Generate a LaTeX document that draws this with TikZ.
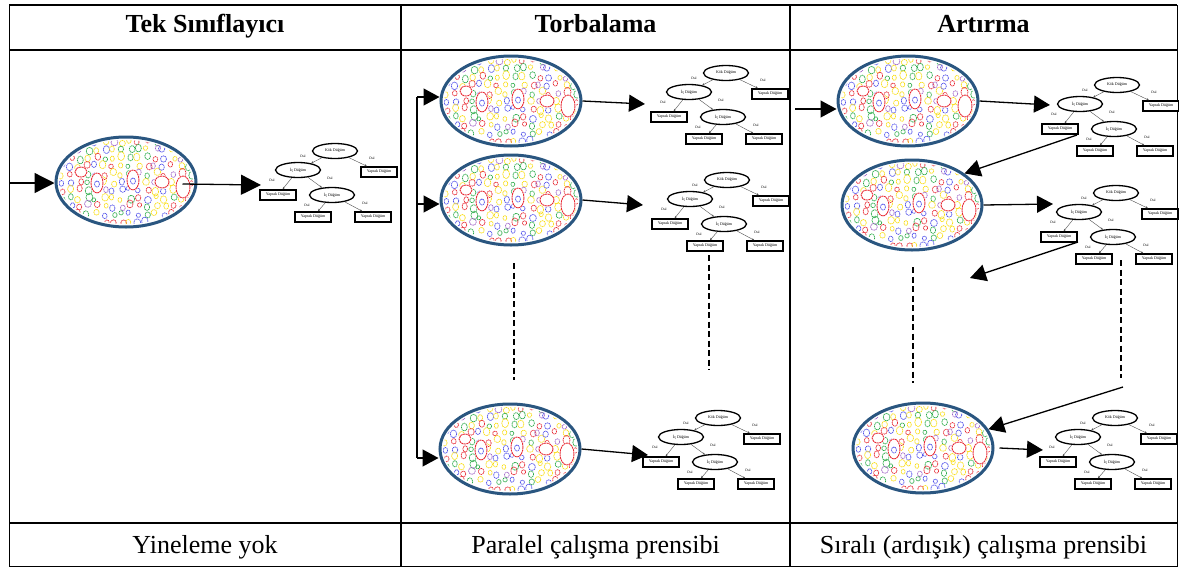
\documentclass[tikz,border=0pt]{standalone}
\usepackage{fontspec}
\setmainfont{Liberation Serif}
\usetikzlibrary{shapes.geometric,arrows.meta,calc}
\definecolor{blobblue}{RGB}{42,86,128}
\definecolor{dotc0}{RGB}{232,40,50}
\definecolor{dotc1}{RGB}{80,80,235}
\definecolor{dotc2}{RGB}{40,170,70}
\definecolor{dotc3}{RGB}{250,222,20}
\definecolor{dotc4}{RGB}{160,100,200}
\colorlet{dotc5}{dotc1}
\colorlet{dotc6}{dotc2}
\colorlet{dotc7}{dotc3}
\colorlet{dotc8}{dotc3}
\colorlet{dotc9}{dotc0}
\tikzset{
  blobnode/.style={ellipse, draw=blobblue, line width=3pt, fill=white, minimum width=140pt, minimum height=90pt, inner sep=0pt},
  tnode/.style={ellipse, draw, line width=1.3pt, fill=white, minimum width=45pt, minimum height=15pt, inner sep=0pt, font=\fontsize{4}{5}\selectfont},
  tleaf/.style={rectangle, draw, line width=1.5pt, fill=white, minimum width=36pt, minimum height=10pt, inner sep=0pt, font=\fontsize{4}{5}\selectfont},
  tedge/.style={draw=black!70, line width=0.4pt, -{Stealth[length=2.5pt,width=2pt]}},
  tlab/.style={font=\fontsize{3.5}{4}\selectfont, inner sep=0pt},
  bigarrow/.style={line width=1.3pt, -{Triangle[length=16pt,width=17pt]}},
  bigarrowA/.style={line width=1.3pt, -{Triangle[length=20pt,width=20pt]}},
  dotline/.style={line width=1.2pt, dash pattern=on 6pt off 3.5pt},
  headtxt/.style={anchor=base, font=\fontsize{26}{30}\selectfont\bfseries},
  foottxt/.style={anchor=base, font=\fontsize{26}{30}\selectfont},
  dotring/.style={line width=0.7pt, dash pattern=on 1.3pt off 0.6pt},
}
\newcommand\blobdots{%
  \pgfmathsetseed{31415}%
  \foreach \gx in {-64,-55.5,...,65}{%
    \foreach \gy in {-40,-32,...,41}{%
      \pgfmathsetmacro\dpx{\gx+2.5*rand}%
      \pgfmathsetmacro\dpy{\gy+2.2*rand}%
      \pgfmathsetmacro\drr{1.9+1.6*rnd}%
      \pgfmathsetmacro\dry{\drr*(1+0.35*rnd)}%
      \pgfmathtruncatemacro\dcol{mod(int(rnd*1000),10)}%
      \draw[dotc\dcol, dotring] (\dpx,\dpy) ellipse [x radius=\drr, y radius=\dry];
    }%
  }%
  \foreach \ea/\eb/\ec/\ed in {-29/1/6/10, 7/-2/6/10, 57/5/7/11, 36/0/7/6, -45/-10/6/5}{%
    \fill[white] (\ea,\eb) ellipse [x radius=\ec+1, y radius=\ed+1];
    \draw[dotc0, line width=0.9pt, dash pattern=on 2pt off 0.6pt] (\ea,\eb) ellipse [x radius=\ec, y radius=\ed];
  }%
  \draw[dotc1, dotring] (-29,2) ellipse [x radius=2.5, y radius=3];
  \draw[dotc1, dotring] (7,-1) ellipse [x radius=2.5, y radius=3];
}
\newcommand\blob[3]{%
  \node[blobnode] (#1) at (#2,#3) {};
  \begin{scope}[shift={(#2,#3)}]
    \clip (0,0) ellipse [x radius=67, y radius=42];
    \blobdots
  \end{scope}}
\newcommand\dtree[3]{%
  \begin{scope}[shift={(#2,#3)}]
    \node[tnode] (#1r) at (0,0) {Kök Düğüm};
    \node[tnode] (#1i) at (-37,19) {İç Düğüm};
    \node[tleaf] (#1a) at (44,21) {Yaprak Düğüm};
    \node[tleaf] (#1b) at (-57,44) {Yaprak Düğüm};
    \node[tnode] (#1j) at (-3,44) {İç Düğüm};
    \node[tleaf] (#1c) at (-22,66) {Yaprak Düğüm};
    \node[tleaf] (#1d) at (38,66) {Yaprak Düğüm};
    \draw[tedge] (#1r) -- (#1i);
    \draw[tedge] (#1r) -- (#1a);
    \draw[tedge] (#1i) -- (#1b);
    \draw[tedge] (#1i) -- (#1j);
    \draw[tedge] (#1j) -- (#1c);
    \draw[tedge] (#1j) -- (#1d);
    \node[tlab] (#1la) at (-32,5) {Dal};
    \node[tlab] (#1lb) at (37,7) {Dal};
    \node[tlab] (#1lc) at (-63,29) {Dal};
    \node[tlab] (#1ld) at (-5,27) {Dal};
    \node[tlab] (#1le) at (-28,54) {Dal};
    \node[tlab] (#1lf) at (30,52) {Dal};
  \end{scope}}
\begin{document}
\begin{tikzpicture}[x=1pt,y=-1pt]
\useasboundingbox (0,0) rectangle (1179,568);
% table
\draw[line width=0.9pt] (9,5) -- (9,566) -- (1177,566) -- (1177,5);
\draw[line width=2.2pt] (9,5) -- (1177,5);
\draw[line width=2.2pt] (9,50) -- (1177,50);
\draw[line width=2.2pt] (9,523) -- (1177,523);
\draw[line width=1.5pt] (401,5) -- (401,566);
\draw[line width=1.5pt] (790,5) -- (790,566);
% texts
\node[headtxt] (h1) at (205,32) {Tek Sınıflayıcı};
\node[headtxt] (h2) at (595.5,32) {Torbalama};
\node[headtxt] (h3) at (983.5,32) {Artırma};
\node[foottxt] (f1) at (205,553) {Yineleme yok};
\node[foottxt] (f2) at (595.5,553) {Paralel çalışma prensibi};
\node[foottxt] (f3) at (983.5,553) {Sıralı (ardışık) çalışma prensibi};
% blobs
\blob{b1}{126}{182}
\blob{b2a}{511}{101}
\blob{b2b}{511}{200}
\blob{b2c}{510}{449}
\blob{b3a}{908}{101}
\blob{b3b}{912}{205}
\blob{b3c}{923}{448}
% trees
\dtree{t1}{335}{151}
\dtree{t2a}{726}{73}
\dtree{t2b}{727}{180}
\dtree{t2c}{718}{418}
\dtree{t3a}{1117}{85}
\dtree{t3b}{1116}{193}
\dtree{t3c}{1115}{418}
% coordinates
\coordinate (in1) at (9,183);
\coordinate (tip1) at (261,185);
\coordinate (v1) at (417,97);
\coordinate (v2) at (417,204);
\coordinate (v3) at (417,458);
\coordinate (tip2a) at (645,104);
\coordinate (tip2b) at (643,205);
\coordinate (tip2c) at (648,455);
\coordinate (in3) at (795,109);
\coordinate (tip3a) at (1050,105);
\coordinate (tip3b) at (1053,204);
\coordinate (tip3c) at (1043,450);
\coordinate (s3a) at (1077,135);
\coordinate (s3b) at (1078,242);
\coordinate (tip3x) at (970,278);
\coordinate (s3c) at (1123,387);
\coordinate (d2a1) at (514,263); \coordinate (d2a2) at (514,380);
\coordinate (d2b1) at (709,255); \coordinate (d2b2) at (709,370);
\coordinate (d3a1) at (913,267); \coordinate (d3a2) at (913,383);
\coordinate (d3b1) at (1121,260); \coordinate (d3b2) at (1121,378);
% column 1
\draw[bigarrowA] (in1) -- (in1 -| b1.west);
\draw[bigarrowA] ([xshift=-15pt,yshift=-2pt]b1.east) -- (tip1);
% column 2
\draw[line width=1.3pt] (v1) -- (v3);
\draw[bigarrow] (v1) -- (v1 -| b2a.west);
\draw[bigarrow] (v2) -- (v2 -| b2b.west);
\draw[bigarrow] (v3) -- (v3 -| b2c.west);
\draw[bigarrow] (b2a.east) -- (tip2a);
\draw[bigarrow] (b2b.east) -- (tip2b);
\draw[bigarrow] (b2c.east) -- (tip2c);
\draw[dotline] (d2a1) -- (d2a2);
\draw[dotline] (d2b1) -- (d2b2);
% column 3
\draw[bigarrow] (in3) -- (in3 -| b3a.west);
\draw[bigarrow] (b3a.east) -- (tip3a);
\draw[bigarrow] (s3a) -- (b3b.31);
\draw[bigarrow] (b3b.east) -- (tip3b);
\draw[bigarrow] (s3b) -- (tip3x);
\draw[dotline] (d3a1) -- (d3a2);
\draw[dotline] (d3b1) -- (d3b2);
\draw[bigarrow] (s3c) -- (b3c.16);
\draw[bigarrow] ([xshift=5pt]b3c.east) -- (tip3c);
\end{tikzpicture}
\end{document}
